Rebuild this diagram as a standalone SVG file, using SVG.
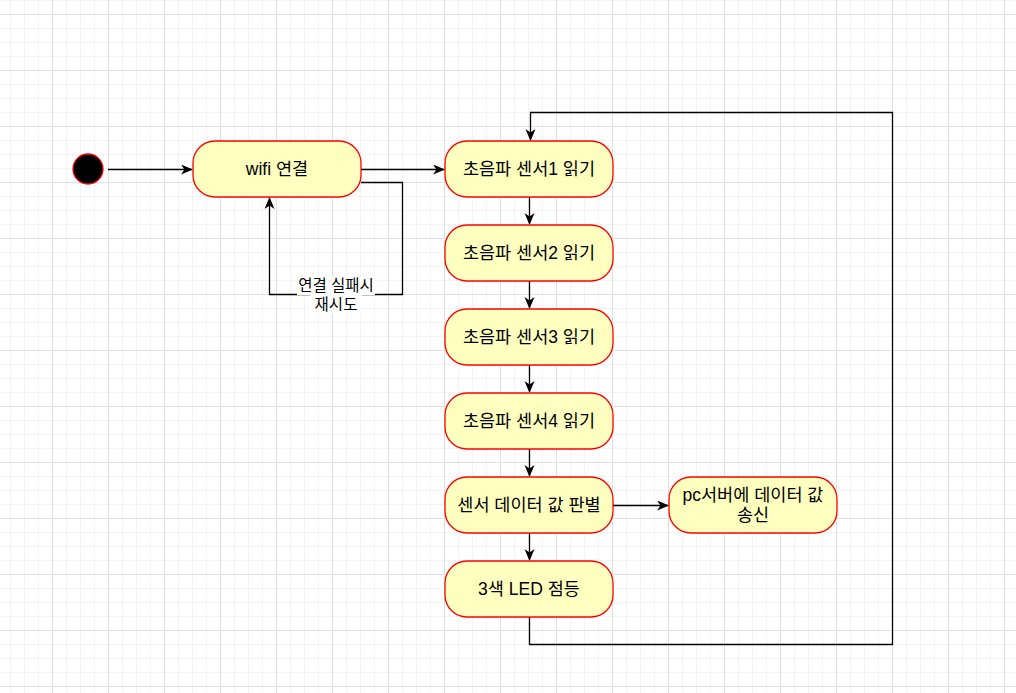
<svg xmlns="http://www.w3.org/2000/svg" width="1016" height="693" viewBox="0 0 1016 693">
<defs>
<pattern id="grid" patternUnits="userSpaceOnUse" x="0" y="0" width="56" height="56">
<path d="M10.5,0V56M24.5,0V56M38.5,0V56M0,0.5H56M0,28.5H56M0,42.5H56" stroke="#f3f3f3" stroke-width="1" fill="none"/>
<path d="M52.5,0V56M0,14.5H56" stroke="#e0e0e0" stroke-width="1" fill="none"/>
</pattern>
<marker id="arr" markerWidth="14" markerHeight="12" refX="11" refY="5" orient="auto" markerUnits="userSpaceOnUse">
<path d="M0,0 L12,5 L0,10 L3.5,5 z" fill="#000"/>
</marker>
<style>
.node{fill:#ffffc0;stroke:#ff0000;stroke-width:1.3}
.lbl{font-family:"Liberation Sans","Noto Sans CJK KR",sans-serif;font-size:17.5px;fill:#000;text-anchor:middle}
.elbl{font-family:"Liberation Sans","Noto Sans CJK KR",sans-serif;font-size:15.5px;fill:#000;text-anchor:middle}
.edge{fill:none;stroke:#000;stroke-width:1.3}
</style>
</defs>
<rect width="1016" height="693" fill="#fff"/>
<rect width="1016" height="693" fill="url(#grid)"/>
<g id="connectors">
<path class="edge" d="M108,169.5H192" marker-end="url(#arr)"/>
<path class="edge" d="M361,169.5H444" marker-end="url(#arr)"/>
<path class="edge" d="M361,182.5H402.5V294.5H269.5V198" marker-end="url(#arr)"/>
<path class="edge" d="M529.5,197V224" marker-end="url(#arr)"/>
<path class="edge" d="M529.5,281V308" marker-end="url(#arr)"/>
<path class="edge" d="M529.5,365V392" marker-end="url(#arr)"/>
<path class="edge" d="M529.5,449V476" marker-end="url(#arr)"/>
<path class="edge" d="M529.5,533V560" marker-end="url(#arr)"/>
<path class="edge" d="M613,505.5H668" marker-end="url(#arr)"/>
<path class="edge" d="M529.5,617V644.5H892.5V112.5H530.5V140" marker-end="url(#arr)"/>
<g id="edge-label">
<rect x="297" y="277" width="78" height="18" fill="#fff"/>
<rect x="310" y="295" width="52" height="19" fill="#fff"/>
<text class="elbl" x="336" y="291">연결 실패시</text>
<text class="elbl" x="336" y="310">재시도</text>
</g>
</g>
<g id="start"><circle cx="88" cy="169" r="15" fill="#000" stroke="#ff0000" stroke-width="1.3"/></g>
<g id="wifi"><rect class="node" x="193" y="141" width="168" height="56" rx="22"/><text class="lbl" x="277" y="175">wifi 연결</text></g>
<g id="s1"><rect class="node" x="445" y="141" width="168" height="56" rx="22"/><text class="lbl" x="529" y="175">초음파 센서1 읽기</text></g>
<g id="s2"><rect class="node" x="445" y="225" width="168" height="56" rx="22"/><text class="lbl" x="529" y="259">초음파 센서2 읽기</text></g>
<g id="s3"><rect class="node" x="445" y="309" width="168" height="56" rx="22"/><text class="lbl" x="529" y="343">초음파 센서3 읽기</text></g>
<g id="s4"><rect class="node" x="445" y="393" width="168" height="56" rx="22"/><text class="lbl" x="529" y="427">초음파 센서4 읽기</text></g>
<g id="judge"><rect class="node" x="445" y="477" width="168" height="56" rx="22"/><text class="lbl" x="529" y="511">센서 데이터 값 판별</text></g>
<g id="pc"><rect class="node" x="669" y="477" width="168" height="56" rx="22"/><text class="lbl" x="753" y="501">pc서버에 데이터 값</text><text class="lbl" x="753" y="521">송신</text></g>
<g id="led"><rect class="node" x="445" y="561" width="168" height="56" rx="22"/><text class="lbl" x="529" y="595">3색 LED 점등</text></g>
</svg>
